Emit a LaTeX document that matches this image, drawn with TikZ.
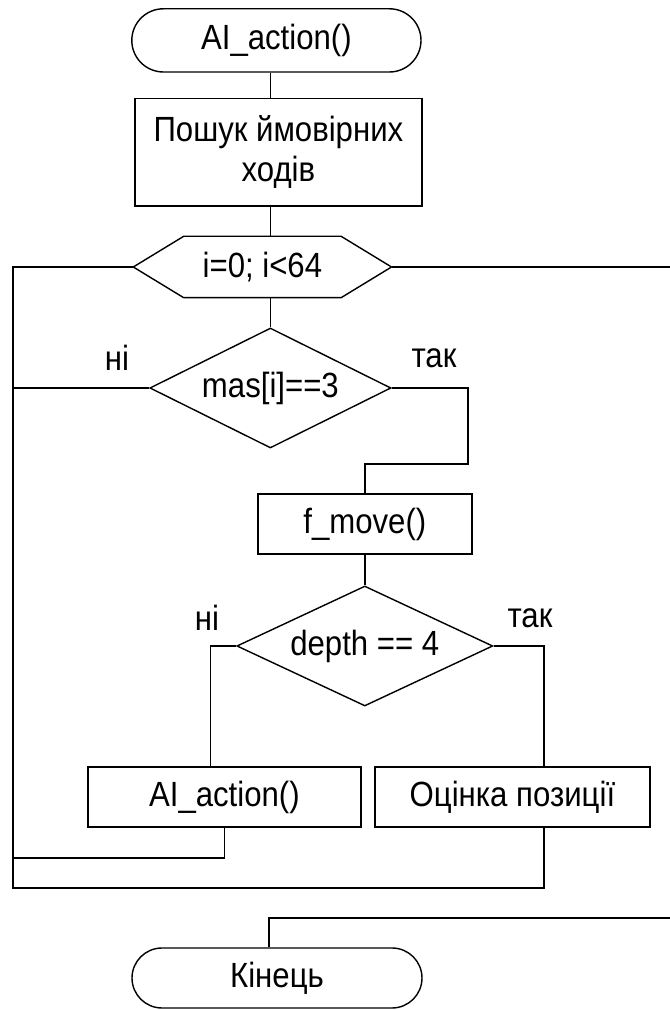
\documentclass[tikz,border=0pt]{standalone}
\usepackage{fontspec}
\setmainfont[FakeStretch=0.89]{Liberation Sans}
\usetikzlibrary{shapes.geometric,shapes.misc}

\begin{document}
\begin{tikzpicture}[
    line width=1pt,
    every node/.style={font=\fontsize{24.9}{28.45}\selectfont, inner sep=0pt},
    term/.style={draw, rounded rectangle, minimum width=7.23cm, minimum height=1.58cm},
    proc/.style={draw, rectangle, minimum height=1.5cm},
    cond/.style={draw, diamond, aspect=2, minimum height=3cm}
  ]
    \useasboundingbox (0,0) rectangle (16.75,25.25);
    \node[term] (start) at (6.91,24.24) {AI\_action()};
    \node[proc, minimum width=7.18cm, minimum height=2.68cm, align=center] (search) at (6.96,21.44) {Пошук ймовірних\\ходів};
    \node[minimum width=3.9cm, minimum height=1.5cm] (loop) at (6.56,18.575) {i=0; i<64};
    \coordinate (loopl) at ([xshift=-1.26cm]loop.west);
    \coordinate (loopr) at ([xshift=1.26cm]loop.east);
    \draw (loop.north west) -- (loopl) -- (loop.south west) -- (loop.south east) -- (loopr) -- (loop.north east) -- cycle;
    \node[cond, minimum width=6.03cm] (cond1) at (6.76,15.55) {mas[i]==3};
    \node[proc, minimum width=5.35cm] (fmove) at (9.12,12.15) {f\_move()};
    \node[cond, minimum width=6.4cm] (cond2) at (9.12,9.1) {depth == 4};
    \node[proc, minimum width=6.83cm] (aibox) at (5.61,5.325) {AI\_action()};
    \node[proc, minimum width=6.88cm] (evalbox) at (12.81,5.325) {Оцінка позиції};
    \node[term, minimum width=7.25cm, minimum height=1.5cm] (stop) at (6.925,0.8) {Кінець};
    % labels
    \node (no1) at (2.925,16.3) {ні};
    \node (yes1) at (10.85,16.3) {так};
    \node (no2) at (5.175,9.8) {ні};
    \node (yes2) at (13.25,9.8) {так};
    % bends
    \coordinate (back) at (0.325,3.05);
    \coordinate (next) at (0.325,3.8);
    \coordinate (turn) at (11.7,13.65);
    \coordinate (exit) at (16.75,2.3);
    % connectors
    \draw (start.south -| cond1) -- (search.north -| cond1);
    \draw (search.south -| cond1) -- (loop.north -| cond1);
    \draw (loop.south -| cond1) -- (cond1.north);
    \draw (cond1.east) -| (turn) -| (fmove.north);
    \draw (fmove) -- (cond2);
    \draw (cond2.west) -| ([xshift=-0.35cm]aibox.north);
    \draw (cond2.east) -| ([xshift=0.79cm]evalbox.north);
    \draw (cond1.west) -- (cond1.west -| back);
    \draw (aibox.south) |- (next);
    \draw (loopl) -| (back) -| ([xshift=0.79cm]evalbox.south);
    \draw (loopr) -- (loopr -| exit);
    \draw (exit) -| ([xshift=-0.2cm]stop.north);
  \end{tikzpicture}
\end{document}
